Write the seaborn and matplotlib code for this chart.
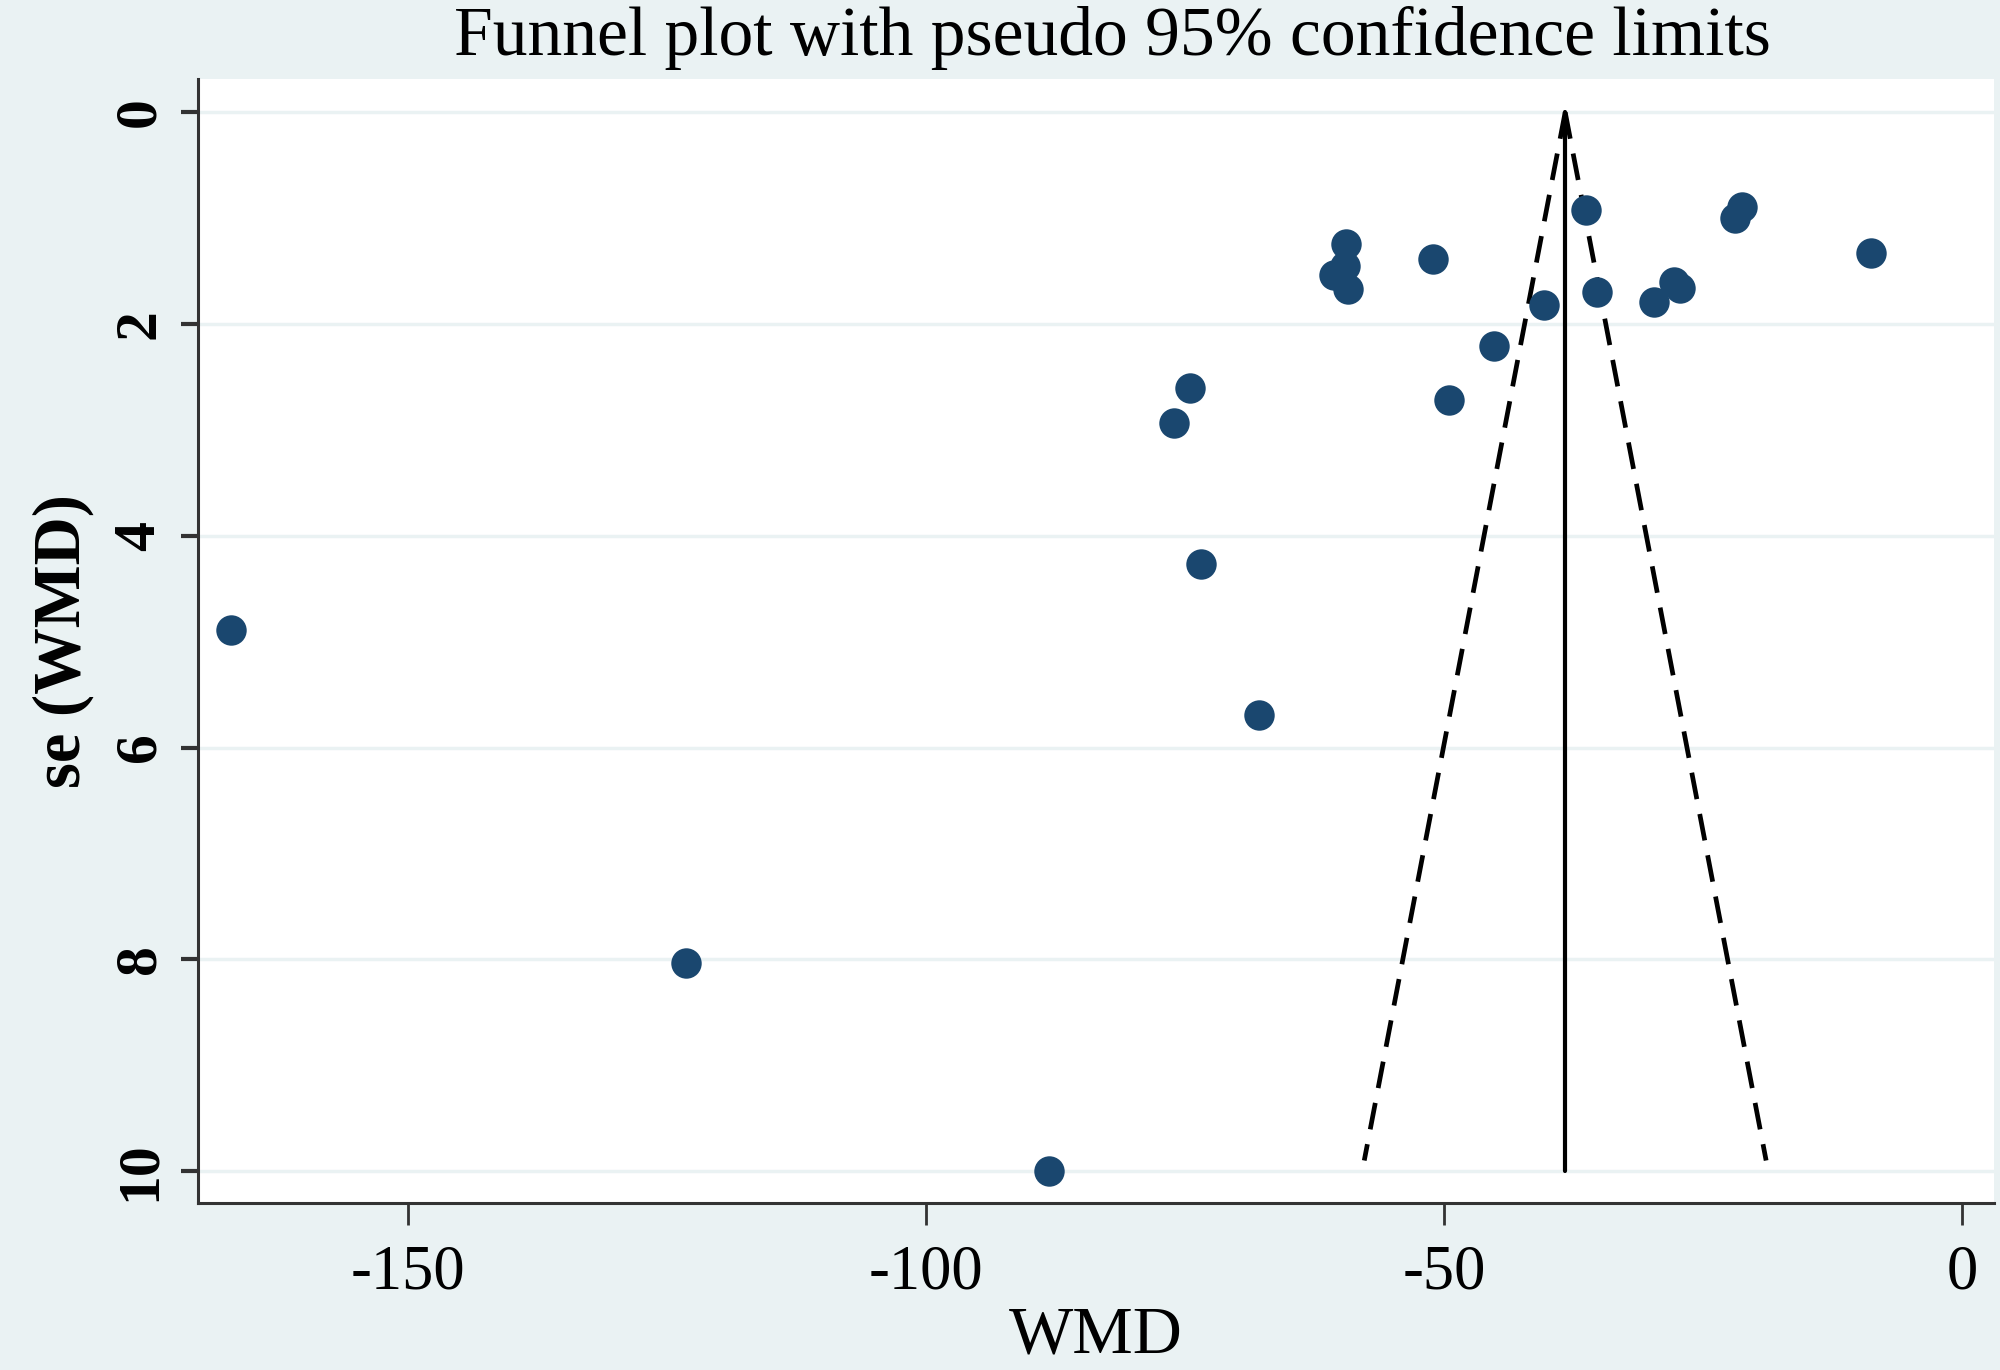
import numpy as np
import pandas as pd
import matplotlib
matplotlib.use("Agg")
import matplotlib.pyplot as plt
import seaborn as sns

# =====================================================
# Data
# =====================================================
wmd = [-167.1, -123.2, -88.1, -76.1, -74.5, -73.5, -67.9,
       -59.5, -59.6, -60.6, -59.3, -51.1, -49.5, -45.2,
       -40.3, -36.3, -35.2, -29.7, -27.8, -27.2, -21.9,
       -21.2, -8.8]
se_wmd = [4.89, 8.03, 10.0, 2.93, 2.60, 4.27, 5.69,
          1.24, 1.45, 1.54, 1.67, 1.39, 2.72, 2.21,
          1.82, 0.92, 1.70, 1.79, 1.60, 1.66, 1.00,
          0.89, 1.33]

pooled_wmd = -38.3          # vertical reference line
funnel_se = [0.0, 9.9]      # se range of the pseudo 95% limits
funnel_lo = [-38.3, -57.7]  # left dashed limit
funnel_hi = [-38.3, -18.9]  # right dashed limit
line_se = [0.0, 10.0]

x_ticks = [-150, -100, -50, 0]
y_ticks = [0, 2, 4, 6, 8, 10]

df = pd.DataFrame({"WMD": wmd, "se": se_wmd})

# =====================================================
# Style
# =====================================================
BG = "#eaf2f3"
DOT = "#1a476f"
sns.set_theme(style="white")
plt.rcParams["font.family"] = ["Liberation Serif", "DejaVu Serif"]
plt.rcParams["text.color"] = "black"
plt.rcParams["axes.labelcolor"] = "black"
plt.rcParams["xtick.color"] = "black"
plt.rcParams["ytick.color"] = "black"

fig = plt.figure(figsize=(20, 13.7), dpi=100, facecolor=BG)
ax = fig.add_axes([0.099, 0.122, 0.898, 0.820])
ax.set_facecolor("white")

for y in y_ticks:
    ax.axhline(y, color=BG, lw=2.5, zorder=0)

ax.plot(funnel_lo, funnel_se, color="black", lw=3.4, ls=(0, (5.7, 3.2)), zorder=2)
ax.plot(funnel_hi, funnel_se, color="black", lw=3.4, ls=(0, (5.7, 3.2)), zorder=2)
ax.plot([pooled_wmd, pooled_wmd], line_se, color="black", lw=3.0, zorder=2)

sns.scatterplot(data=df, x="WMD", y="se", ax=ax, color=DOT, s=480,
                linewidth=0, zorder=3, legend=False)

ax.set_xlim(-170.3, 3.1)
ax.set_ylim(10.3, -0.31)
ax.set_xticks(x_ticks)
ax.set_yticks(y_ticks)
ax.set_xticklabels([str(v) for v in x_ticks], fontsize=45)
ax.set_yticklabels([str(v) for v in y_ticks], fontsize=43, rotation=90,
                   va="center", fontweight="bold")

for side in ["top", "right"]:
    ax.spines[side].set_visible(False)
for side in ["left", "bottom"]:
    ax.spines[side].set_color("#333333")
    ax.spines[side].set_linewidth(2.2)

ax.tick_params(axis="x", direction="out", length=16, width=2, color="#333333",
               pad=14, bottom=True)
ax.tick_params(axis="y", direction="out", length=12, width=3, color="#333333",
               pad=10, left=True)

ax.set_xlabel("WMD", fontsize=49, labelpad=2)
ax.set_ylabel("se (WMD)", fontsize=48, fontweight="bold", labelpad=14)
fig.text(0.556, 0.972, "Funnel plot with pseudo 95% confidence limits",
         ha="center", va="center", fontsize=50)

fig.savefig("out.png", dpi=100, facecolor=BG)
